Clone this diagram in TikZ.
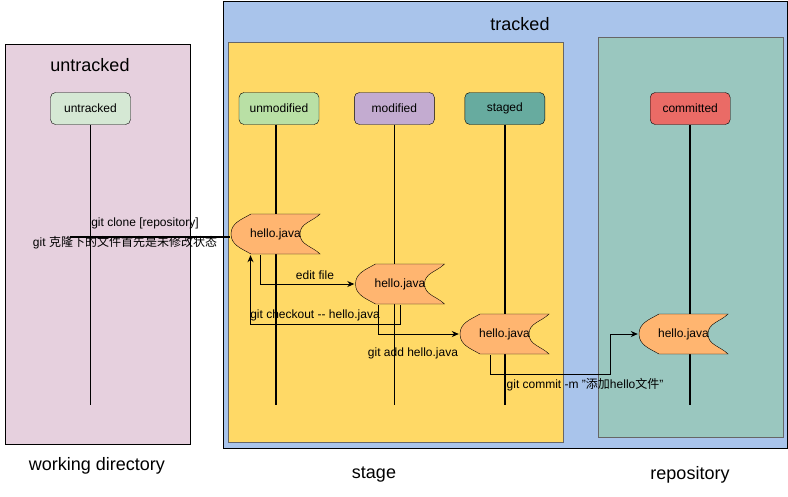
\documentclass[tikz,border=0pt]{standalone}
\usepackage{fontspec}
\setmainfont{Liberation Sans}
\newfontfamily\cjk{Noto Sans CJK SC}
\usepackage{tikz}
\definecolor{boxpink}{HTML}{E6D0DE}
\definecolor{boxblue}{HTML}{A9C4EB}
\definecolor{boxyellow}{HTML}{FFD966}
\definecolor{boxteal}{HTML}{9AC7BF}
\definecolor{stategreen}{HTML}{D5E8D4}
\definecolor{statelime}{HTML}{B9E0A5}
\definecolor{statepurple}{HTML}{C3ABD0}
\definecolor{stateteal}{HTML}{67AB9F}
\definecolor{statered}{HTML}{EA6B66}
\definecolor{fileorange}{HTML}{FFB570}
\usetikzlibrary{
  arrows.meta,
  calc,
  positioning,
}
\tikzset{
  >={Stealth[length=7pt,width=6pt]},
  area/.style={draw,rectangle,anchor=north west,inner sep=0},
  state/.style={draw,rectangle,rounded corners=5,minimum width=80,minimum height=32,inner sep=0,font=\fontsize{12}{14}\selectfont},
  file/.style={minimum width=91,minimum height=42,inner sep=0,font=\fontsize{12}{14}\selectfont,
    path picture={\draw[fill=fileorange] ([shift={(21pt,-1pt)}]path picture bounding box.north west) -- ([shift={(-1pt,-1pt)}]path picture bounding box.north east) to[out=225,in=90] ([shift={(-21pt,0pt)}]path picture bounding box.east) to[out=270,in=135] ([shift={(-1pt,1pt)}]path picture bounding box.south east) -- ([shift={(21pt,1pt)}]path picture bounding box.south west) to[out=150,in=270] ([shift={(1pt,0pt)}]path picture bounding box.west) to[out=90,in=210] ([shift={(21pt,-1pt)}]path picture bounding box.north west) -- cycle;}},
  life/.style={line width=1.6pt},
  flow/.style={->,line width=0.9pt},
  note/.style={inner sep=1pt,font=\fontsize{12}{14}\selectfont},
  title/.style={inner sep=1pt,font=\fontsize{18}{21}\selectfont},
}

\begin{document}
\begin{tikzpicture}[x=1pt,y=1pt]
        \useasboundingbox (0,0) rectangle (788,-496);
        \node[area,fill=boxpink,minimum width=185,minimum height=400]    (w0) at (5,-44)   {};
        \node[area,fill=boxblue,minimum width=564,minimum height=447]    (t0) at (223,-1)  {};
        \node[area,fill=boxyellow,draw=black!60,minimum width=335,minimum height=400]    (s0) at (228,-42)  {};
        \node[area,fill=boxteal,draw=black!60,minimum width=185,minimum height=400]    (r0) at (598,-37)  {};

        \node[title] (h0) at (90,-65)  {untracked};
        \node[title] (h1) at (520,-24) {tracked};

        \node[state,fill=stategreen]    (st0) at (90.5,-108.5) {untracked};
        \node[state,fill=statelime]     (st1) at (279,-108.5)  {unmodified};
        \node[state,fill=statepurple]   (st2) [right=35pt of st1] {modified};
        \node[state,fill=stateteal]     (st3) [right=30pt of st2] {staged};
        \node[state,fill=statered]      (st4) [right=105pt of st3] {committed};

        \draw[life] (st0.south) -- ++(0,-280);
        \draw[life] ([xshift=-3]st1.south) -- ++(0,-280);
        \draw[life] (st2.south) -- ++(0,-280);
        \draw[life] (st3.south) -- ++(0,-280);
        \draw[life] (st4.south) -- ++(0,-280);

        \node[file] (f0) at (275.5,-234) {hello.java};
        \node[file] (f1) at (400,-284)   {hello.java};
        \node[file] (f2) at (504.5,-334) {hello.java};
        \node[file] (f3) at (683.5,-334) {hello.java};

        \coordinate (c0) at (70,-237);
        \coordinate (m0) at (610,-374);
        \draw[line width=1.8pt] (c0) -- (c0 -| f0.west);
        \draw[flow] ([xshift=-15]f0.south) |- (f1.west);
        \draw[flow] (f1.south) -- ++(0,-19) -| ([xshift=-25]f0.south);
        \draw[flow] ([xshift=-22]f1.south) |- (f2.west);
        \draw[flow] ([xshift=-14]f2.south) |- (m0) |- (f3.west);

        \node[note] (l0) at (145,-223) {git clone [repository]};
        \node[note] (l1) at (125,-243) {git {\cjk 克隆下的文件首先是未修改状态}};
        \node[note] (l2) at (315,-275) {edit file};
        \node[note] (l3) at (315,-315) {git checkout -{}- hello.java};
        \node[note] (l4) at (413,-353) {git add hello.java};
        \node[note] (l5) at (585,-385) {git commit -m "{\cjk 添加}hello{\cjk 文件}"};

        \node[title] (b0) at (97,-466)  {working directory};
        \node[title] (b1) at (374,-475) {stage};
        \node[title] (b2) at (690,-475) {repository};
    \end{tikzpicture}
\end{document}
